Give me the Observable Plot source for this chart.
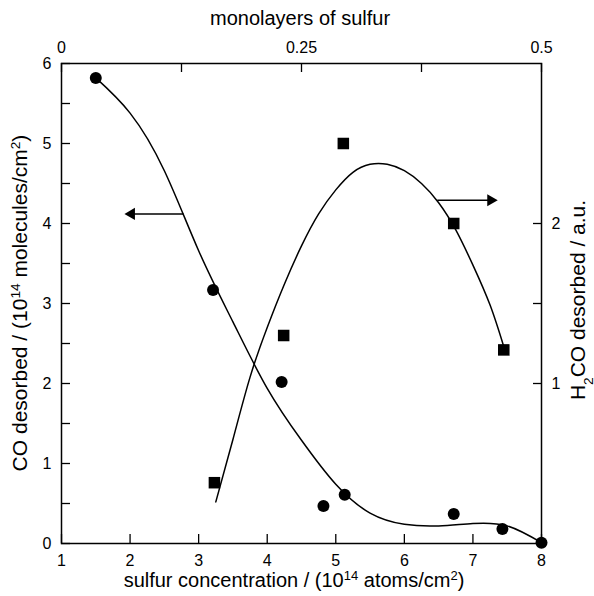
<!DOCTYPE html>
<html><head><meta charset="utf-8">
<script src="https://cdn.jsdelivr.net/npm/d3@7"></script>
<script src="https://cdn.jsdelivr.net/npm/@observablehq/plot@0.6"></script>
<style>
body{margin:0;background:#fff}
svg{display:block}
</style>
</head><body><div id="chart"></div>
<script>
// ---- data ----
// CO desorbed (left axis, 10^14 molecules/cm^2) vs sulfur concentration (10^14 atoms/cm^2)
const coX = [1.50, 3.21, 4.21, 4.82, 5.13, 6.72, 7.43, 8.00];
const coY = [5.82, 3.17, 2.02, 0.47, 0.61, 0.37, 0.18, 0.01];
// H2CO desorbed (right axis, a.u.)
const h2coX = [3.23, 4.24, 5.11, 6.72, 7.45];
const h2coY = [0.38, 1.30, 2.50, 2.00, 1.21];
// hand-drawn guide curves
const coCurveX = [1.50, 2.00, 2.50, 3.00, 3.50, 4.00, 4.50, 5.00, 5.50, 6.00, 6.50, 7.00, 7.50, 8.00];
const coCurveY = [5.82, 5.38, 4.66, 3.66, 2.77, 1.94, 1.29, 0.74, 0.38, 0.24, 0.22, 0.25, 0.22, 0.01];
const h2coCurveX = [3.25, 3.50, 3.75, 4.00, 4.25, 4.50, 4.75, 5.00, 5.25, 5.50, 5.75, 6.00, 6.25, 6.50, 6.75, 7.00, 7.25, 7.45];
const h2coCurveY = [0.26, 0.65, 1.04, 1.35, 1.62, 1.86, 2.06, 2.21, 2.32, 2.37, 2.37, 2.33, 2.25, 2.13, 1.96, 1.74, 1.49, 1.23];
// axis ticks
const bottomTicks = [1, 2, 3, 4, 5, 6, 7, 8];
const leftTicks = [0, 1, 2, 3, 4, 5, 6];
const leftMinorTicks = [0.5, 1.5, 2.5, 3.5, 4.5, 5.5];
const rightTicks = [1, 2];
const rightMinorTicks = [1.5];
const topTicks = [0, 0.25, 0.5];
const topMinorTicks = [0.125, 0.375];
// arrows pointing to each curve's axis (x from, x to, y on left axis)
const arrowFromX = [2.78, 6.48];
const arrowToX = [1.95, 7.33];
const arrowY = [4.12, 4.29];
const arrowDir = [-1, 1];

// axis relations
const h2coToCo = 2;                 // right axis 1 a.u. = left axis 2
const mlToConc = m => 1 + 14 * m;   // 0.5 monolayer = 8e14 atoms/cm2

const W = 594, H = 596;
const mL = 61, mR = 53, mT = 63, mB = 53;
const fw = W - mL - mR, fh = H - mT - mB;

const co = coX.map((x, i) => ({x, y: coY[i]}));
const h2co = h2coX.map((x, i) => ({x, y: h2coY[i] * h2coToCo}));
const coCurve = coCurveX.map((x, i) => ({x, y: coCurveY[i]}));
const h2coCurve = h2coCurveX.map((x, i) => ({x, y: h2coCurveY[i] * h2coToCo}));
const arrows = arrowFromX.map((x1, i) => ({x1, x2: arrowToX[i], y: arrowY[i], dir: arrowDir[i]}));

const font = "Liberation Sans, Arial, sans-serif";

const plot = Plot.plot({
  width: W, height: H,
  marginLeft: mL, marginRight: mR, marginTop: mT, marginBottom: mB,
  style: {fontFamily: font, fontSize: "16px", background: "white"},
  x: {domain: [1, 8]},
  y: {domain: [0, 6]},
  marks: [
    Plot.frame({stroke: "black", strokeWidth: 1.5}),
    // inward ticks
    Plot.tickX(bottomTicks, {x: d => d, insetTop: fh - 9, stroke: "black", strokeWidth: 1.3}),
    Plot.tickX(topMinorTicks.concat(topTicks), {x: d => mlToConc(d), insetBottom: fh - 9, stroke: "black", strokeWidth: 1.3}),
    Plot.tickY(leftTicks.concat(leftMinorTicks), {y: d => d, insetRight: fw - 9, stroke: "black", strokeWidth: 1.3}),
    Plot.tickY(rightTicks.concat(rightMinorTicks), {y: d => d * h2coToCo, insetLeft: fw - 8, stroke: "black", strokeWidth: 1.3}),
    // tick labels
    Plot.axisX({ticks: bottomTicks, tickFormat: d => String(d), tickSize: 0, tickPadding: 11, fontSize: 16, anchor: "bottom", label: null}),
    Plot.axisX({ticks: topTicks.map(mlToConc), tickFormat: d => String((d - 1) / 14), tickSize: 0, tickPadding: 11, fontSize: 16, anchor: "top", label: null}),
    Plot.axisY({ticks: leftTicks, tickFormat: d => String(d), tickSize: 0, tickPadding: 10, fontSize: 16, anchor: "left", label: null}),
    Plot.axisY({ticks: rightTicks.map(d => d * h2coToCo), tickFormat: d => String(d / h2coToCo), tickSize: 0, tickPadding: 10, fontSize: 16, anchor: "right", label: null}),
    // curves
    Plot.line(coCurve, {x: "x", y: "y", curve: "natural", stroke: "black", strokeWidth: 1.5}),
    Plot.line(h2coCurve, {x: "x", y: "y", curve: "natural", stroke: "black", strokeWidth: 1.5}),
    // arrows
    Plot.link(arrows, {x1: "x1", x2: d => d.x2 - d.dir * 0.1, y1: "y", y2: "y", stroke: "black", strokeWidth: 1.5}),
    Plot.dot(arrows, {x: d => d.x2 - d.dir * 0.07, y: "y", symbol: "triangle", r: 4.5, fill: "black", stroke: "none", rotate: d => d.dir * 90}),
    // points
    Plot.dot(co, {x: "x", y: "y", r: 6, fill: "black"}),
    Plot.dot(h2co, {x: "x", y: "y", symbol: "square", r: 6.5, fill: "black"})
  ]
});

const svg = d3.select(plot);
svg.selectAll("text").attr("fill", "black");
function addLabel(parts, x, y, rotate, size) {
  const t = svg.append("text")
    .attr("transform", `translate(${x},${y})` + (rotate ? ` rotate(${rotate})` : ""))
    .attr("text-anchor", "middle")
    .attr("font-family", font)
    .attr("font-size", size)
    .attr("fill", "black");
  for (const [s, kind] of parts) {
    const sp = t.append("tspan").text(s);
    if (kind === "sup") sp.attr("font-size", size * 0.65).attr("baseline-shift", "super");
    if (kind === "sub") sp.attr("font-size", size * 0.65).attr("baseline-shift", "sub");
  }
}
addLabel([["sulfur concentration / (10"], ["14", "sup"], [" atoms/cm"], ["2", "sup"], [")"]], 294, 587, 0, 20);
addLabel([["monolayers of sulfur"]], 300, 25, 0, 20);
addLabel([["CO desorbed / (10"], ["14", "sup"], [" molecules/cm"], ["2", "sup"], [")"]], 27, 303, -90, 21);
addLabel([["H"], ["2", "sub"], ["CO desorbed / a.u."]], 585, 300, -90, 21);

document.getElementById("chart").appendChild(plot);
</script>
</body></html>
